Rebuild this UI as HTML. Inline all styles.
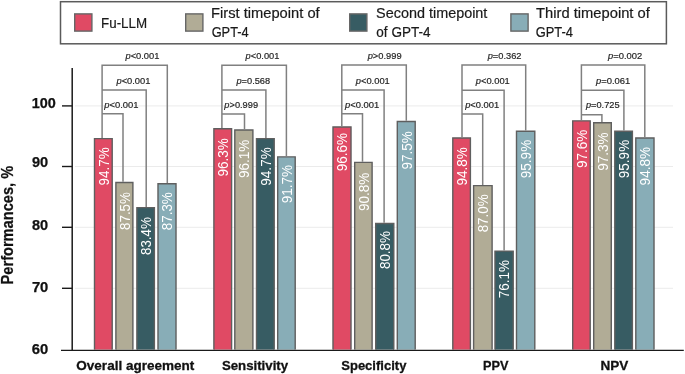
<!DOCTYPE html><html><head><meta charset="utf-8"><style>
html,body{margin:0;padding:0;background:#fff;width:685px;height:374px;overflow:hidden}
svg{display:block;font-family:"Liberation Sans",sans-serif;will-change:transform}
</style></head><body>
<svg width="685" height="374" viewBox="0 0 685 374">
<line x1="75" y1="105.9" x2="673" y2="105.9" stroke="#ebebeb" stroke-width="1"/>
<line x1="75" y1="166.5" x2="673" y2="166.5" stroke="#ebebeb" stroke-width="1"/>
<line x1="75" y1="227.3" x2="673" y2="227.3" stroke="#ebebeb" stroke-width="1"/>
<line x1="75" y1="288.3" x2="673" y2="288.3" stroke="#ebebeb" stroke-width="1"/>
<rect x="94.40" y="138.49" width="17.90" height="211.11" fill="#E04A64"/>
<path d="M94.50,349.60 V138.59 H112.20 V349.60" fill="none" stroke="#5f5f5f" stroke-width="1.4"/>
<rect x="115.80" y="182.47" width="17.20" height="167.13" fill="#B1AC96"/>
<path d="M115.90,349.60 V182.57 H132.90 V349.60" fill="none" stroke="#5f5f5f" stroke-width="1.4"/>
<rect x="136.80" y="207.51" width="17.70" height="142.09" fill="#375C63"/>
<path d="M136.90,349.60 V207.61 H154.40 V349.60" fill="none" stroke="#5f5f5f" stroke-width="1.4"/>
<rect x="157.90" y="183.69" width="18.20" height="165.91" fill="#88ADB7"/>
<path d="M158.00,349.60 V183.79 H176.00 V349.60" fill="none" stroke="#5f5f5f" stroke-width="1.4"/>
<rect x="213.80" y="128.72" width="17.90" height="220.88" fill="#E04A64"/>
<path d="M213.90,349.60 V128.82 H231.60 V349.60" fill="none" stroke="#5f5f5f" stroke-width="1.4"/>
<rect x="234.70" y="129.94" width="18.30" height="219.66" fill="#B1AC96"/>
<path d="M234.80,349.60 V130.04 H252.90 V349.60" fill="none" stroke="#5f5f5f" stroke-width="1.4"/>
<rect x="256.40" y="138.49" width="17.90" height="211.11" fill="#375C63"/>
<path d="M256.50,349.60 V138.59 H274.20 V349.60" fill="none" stroke="#5f5f5f" stroke-width="1.4"/>
<rect x="277.60" y="156.82" width="17.70" height="192.78" fill="#88ADB7"/>
<path d="M277.70,349.60 V156.92 H295.20 V349.60" fill="none" stroke="#5f5f5f" stroke-width="1.4"/>
<rect x="332.90" y="126.89" width="18.20" height="222.71" fill="#E04A64"/>
<path d="M333.00,349.60 V126.99 H351.00 V349.60" fill="none" stroke="#5f5f5f" stroke-width="1.4"/>
<rect x="354.60" y="162.31" width="17.60" height="187.29" fill="#B1AC96"/>
<path d="M354.70,349.60 V162.41 H372.10 V349.60" fill="none" stroke="#5f5f5f" stroke-width="1.4"/>
<rect x="375.60" y="223.39" width="18.30" height="126.21" fill="#375C63"/>
<path d="M375.70,349.60 V223.49 H393.80 V349.60" fill="none" stroke="#5f5f5f" stroke-width="1.4"/>
<rect x="397.20" y="121.39" width="18.10" height="228.21" fill="#88ADB7"/>
<path d="M397.30,349.60 V121.49 H415.20 V349.60" fill="none" stroke="#5f5f5f" stroke-width="1.4"/>
<rect x="452.70" y="137.88" width="17.80" height="211.72" fill="#E04A64"/>
<path d="M452.80,349.60 V137.98 H470.40 V349.60" fill="none" stroke="#5f5f5f" stroke-width="1.4"/>
<rect x="473.50" y="185.52" width="18.70" height="164.08" fill="#B1AC96"/>
<path d="M473.60,349.60 V185.62 H492.10 V349.60" fill="none" stroke="#5f5f5f" stroke-width="1.4"/>
<rect x="494.90" y="251.00" width="18.40" height="98.60" fill="#375C63"/>
<path d="M495.00,349.60 V251.10 H513.20 V349.60" fill="none" stroke="#5f5f5f" stroke-width="1.4"/>
<rect x="516.40" y="131.16" width="18.50" height="218.44" fill="#88ADB7"/>
<path d="M516.50,349.60 V131.26 H534.80 V349.60" fill="none" stroke="#5f5f5f" stroke-width="1.4"/>
<rect x="572.60" y="120.78" width="17.70" height="228.82" fill="#E04A64"/>
<path d="M572.70,349.60 V120.88 H590.20 V349.60" fill="none" stroke="#5f5f5f" stroke-width="1.4"/>
<rect x="593.60" y="122.61" width="17.80" height="226.99" fill="#B1AC96"/>
<path d="M593.70,349.60 V122.71 H611.30 V349.60" fill="none" stroke="#5f5f5f" stroke-width="1.4"/>
<rect x="614.70" y="131.16" width="17.80" height="218.44" fill="#375C63"/>
<path d="M614.80,349.60 V131.26 H632.40 V349.60" fill="none" stroke="#5f5f5f" stroke-width="1.4"/>
<rect x="635.70" y="137.88" width="18.40" height="211.72" fill="#88ADB7"/>
<path d="M635.80,349.60 V137.98 H654.00 V349.60" fill="none" stroke="#5f5f5f" stroke-width="1.4"/>
<path d="M102.1,137.89 V65.2 H167.3 V183.09 M102.1,89.9 H146.2 V206.91 M102.1,113.8 H123.0 V181.87" fill="none" stroke="#808080" stroke-width="1.5"/>
<path d="M221.9,128.12 V65.3 H286.4 V156.22 M221.9,89.9 H265.9 V137.89 M221.9,114.0 H244.5 V129.34" fill="none" stroke="#808080" stroke-width="1.5"/>
<path d="M341.8,126.29 V65.1 H406.3 V120.79 M341.8,90.0 H384.1 V222.79 M341.8,113.8 H362.5 V161.71" fill="none" stroke="#808080" stroke-width="1.5"/>
<path d="M462.0,137.28 V65.0 H525.7 V130.56 M462.0,90.3 H504.1 V250.40 M462.0,113.9 H482.7 V184.92" fill="none" stroke="#808080" stroke-width="1.5"/>
<path d="M581.4,120.18 V65.0 H644.8 V137.28 M581.4,90.2 H623.9 V130.56 M581.4,114.8 H601.9 V122.01" fill="none" stroke="#808080" stroke-width="1.5"/>
<line x1="72.2" y1="68" x2="72.2" y2="350.4" stroke="#1a1a1a" stroke-width="1.5"/>
<line x1="61" y1="350.4" x2="683.8" y2="350.4" stroke="#1a1a1a" stroke-width="1.4"/>
<line x1="62" y1="105.9" x2="72.2" y2="105.9" stroke="#1a1a1a" stroke-width="1.4"/>
<line x1="62" y1="166.5" x2="72.2" y2="166.5" stroke="#1a1a1a" stroke-width="1.4"/>
<line x1="62" y1="227.3" x2="72.2" y2="227.3" stroke="#1a1a1a" stroke-width="1.4"/>
<line x1="62" y1="288.3" x2="72.2" y2="288.3" stroke="#1a1a1a" stroke-width="1.4"/>
<rect x="60.5" y="1.7" width="605.9" height="42.1" fill="none" stroke="#5a5a5a" stroke-width="1.5"/>
<rect x="74.7" y="13.9" width="17.2" height="17.2" fill="#E04A64" stroke="#666" stroke-width="1.4"/>
<rect x="185.7" y="13.9" width="17.2" height="17.2" fill="#B1AC96" stroke="#666" stroke-width="1.4"/>
<rect x="349.7" y="13.9" width="17.2" height="17.2" fill="#375C63" stroke="#666" stroke-width="1.4"/>
<rect x="510.9" y="13.9" width="17.2" height="17.2" fill="#88ADB7" stroke="#666" stroke-width="1.4"/>
<text id="lg1" x="101.07" y="27.70" font-size="14" stroke="#1a1a1a" stroke-width="0.2" fill="#1a1a1a" textLength="46.04" lengthAdjust="spacingAndGlyphs">Fu-LLM</text>
<text id="lg2a" x="211.04" y="18.30" font-size="14" stroke="#1a1a1a" stroke-width="0.2" fill="#1a1a1a" textLength="108.62" lengthAdjust="spacingAndGlyphs">First timepoint of</text>
<text id="lg2b" x="211.64" y="36.80" font-size="14" stroke="#1a1a1a" stroke-width="0.2" fill="#1a1a1a" textLength="37.11" lengthAdjust="spacingAndGlyphs">GPT-4</text>
<text id="lg3a" x="376.12" y="18.30" font-size="14" stroke="#1a1a1a" stroke-width="0.2" fill="#1a1a1a" textLength="111.27" lengthAdjust="spacingAndGlyphs">Second timepoint</text>
<text id="lg3b" x="376.34" y="36.70" font-size="14" stroke="#1a1a1a" stroke-width="0.2" fill="#1a1a1a" textLength="54.17" lengthAdjust="spacingAndGlyphs">of GPT-4</text>
<text id="lg4a" x="536.09" y="18.30" font-size="14" stroke="#1a1a1a" stroke-width="0.2" fill="#1a1a1a" textLength="113.74" lengthAdjust="spacingAndGlyphs">Third timepoint of</text>
<text id="lg4b" x="535.70" y="36.80" font-size="14" stroke="#1a1a1a" stroke-width="0.2" fill="#1a1a1a" textLength="37.26" lengthAdjust="spacingAndGlyphs">GPT-4</text>
<text id="p00" x="104.19" y="108.00" font-size="9.4" stroke="#262626" stroke-width="0.2" fill="#262626" textLength="34.27" lengthAdjust="spacingAndGlyphs"><tspan font-style="italic">p</tspan>&lt;0.001</text>
<text id="p01" x="116.45" y="83.70" font-size="9.4" stroke="#262626" stroke-width="0.2" fill="#262626" textLength="33.98" lengthAdjust="spacingAndGlyphs"><tspan font-style="italic">p</tspan>&lt;0.001</text>
<text id="p02" x="125.44" y="59.30" font-size="9.4" stroke="#262626" stroke-width="0.2" fill="#262626" textLength="33.99" lengthAdjust="spacingAndGlyphs"><tspan font-style="italic">p</tspan>&lt;0.001</text>
<text id="p10" x="224.35" y="108.00" font-size="9.4" stroke="#262626" stroke-width="0.2" fill="#262626" textLength="33.72" lengthAdjust="spacingAndGlyphs"><tspan font-style="italic">p</tspan>&gt;0.999</text>
<text id="p11" x="236.46" y="83.70" font-size="9.4" stroke="#262626" stroke-width="0.2" fill="#262626" textLength="33.67" lengthAdjust="spacingAndGlyphs"><tspan font-style="italic">p</tspan>=0.568</text>
<text id="p12" x="245.61" y="59.30" font-size="9.4" stroke="#262626" stroke-width="0.2" fill="#262626" textLength="33.81" lengthAdjust="spacingAndGlyphs"><tspan font-style="italic">p</tspan>&lt;0.001</text>
<text id="p20" x="345.01" y="108.00" font-size="9.4" stroke="#262626" stroke-width="0.2" fill="#262626" textLength="34.29" lengthAdjust="spacingAndGlyphs"><tspan font-style="italic">p</tspan>&lt;0.001</text>
<text id="p21" x="355.74" y="83.70" font-size="9.4" stroke="#262626" stroke-width="0.2" fill="#262626" textLength="34.05" lengthAdjust="spacingAndGlyphs"><tspan font-style="italic">p</tspan>&lt;0.001</text>
<text id="p22" x="367.63" y="59.30" font-size="9.4" stroke="#262626" stroke-width="0.2" fill="#262626" textLength="33.98" lengthAdjust="spacingAndGlyphs"><tspan font-style="italic">p</tspan>&gt;0.999</text>
<text id="p30" x="465.16" y="108.00" font-size="9.4" stroke="#262626" stroke-width="0.2" fill="#262626" textLength="34.07" lengthAdjust="spacingAndGlyphs"><tspan font-style="italic">p</tspan>&lt;0.001</text>
<text id="p31" x="475.74" y="83.70" font-size="9.4" stroke="#262626" stroke-width="0.2" fill="#262626" textLength="34.05" lengthAdjust="spacingAndGlyphs"><tspan font-style="italic">p</tspan>&lt;0.001</text>
<text id="p32" x="487.65" y="59.30" font-size="9.4" stroke="#262626" stroke-width="0.2" fill="#262626" textLength="33.80" lengthAdjust="spacingAndGlyphs"><tspan font-style="italic">p</tspan>=0.362</text>
<text id="p40" x="585.97" y="108.00" font-size="9.4" stroke="#262626" stroke-width="0.2" fill="#262626" textLength="33.57" lengthAdjust="spacingAndGlyphs"><tspan font-style="italic">p</tspan>=0.725</text>
<text id="p41" x="596.01" y="83.70" font-size="9.4" stroke="#262626" stroke-width="0.2" fill="#262626" textLength="34.29" lengthAdjust="spacingAndGlyphs"><tspan font-style="italic">p</tspan>=0.061</text>
<text id="p42" x="608.06" y="59.30" font-size="9.4" stroke="#262626" stroke-width="0.2" fill="#262626" textLength="34.22" lengthAdjust="spacingAndGlyphs"><tspan font-style="italic">p</tspan>=0.002</text>
<text id="y100" x="31.65" y="107.70" font-size="14" font-weight="bold" stroke="#111" stroke-width="0.25" fill="#111" textLength="24.06" lengthAdjust="spacingAndGlyphs">100</text>
<text id="y90" x="31.99" y="167.40" font-size="14" font-weight="bold" stroke="#111" stroke-width="0.25" fill="#111" textLength="16.24" lengthAdjust="spacingAndGlyphs">90</text>
<text id="y80" x="32.02" y="229.80" font-size="14" font-weight="bold" stroke="#111" stroke-width="0.25" fill="#111" textLength="16.15" lengthAdjust="spacingAndGlyphs">80</text>
<text id="y70" x="31.93" y="291.90" font-size="14" font-weight="bold" stroke="#111" stroke-width="0.25" fill="#111" textLength="16.41" lengthAdjust="spacingAndGlyphs">70</text>
<text id="y60" x="31.87" y="353.90" font-size="14" font-weight="bold" stroke="#111" stroke-width="0.25" fill="#111" textLength="16.44" lengthAdjust="spacingAndGlyphs">60</text>
<text id="c0" x="76.30" y="370.30" font-size="13.5" font-weight="bold" stroke="#111" stroke-width="0.3" fill="#111" textLength="118.04" lengthAdjust="spacingAndGlyphs">Overall agreement</text>
<text id="c1" x="221.90" y="370.30" font-size="13.5" font-weight="bold" stroke="#111" stroke-width="0.3" fill="#111" textLength="66.22" lengthAdjust="spacingAndGlyphs">Sensitivity</text>
<text id="c2" x="341.25" y="370.30" font-size="13.5" font-weight="bold" stroke="#111" stroke-width="0.3" fill="#111" textLength="65.12" lengthAdjust="spacingAndGlyphs">Specificity</text>
<text id="c3" x="483.09" y="370.30" font-size="13.5" font-weight="bold" stroke="#111" stroke-width="0.3" fill="#111" textLength="25.43" lengthAdjust="spacingAndGlyphs">PPV</text>
<text id="c4" x="600.39" y="370.30" font-size="13.5" font-weight="bold" stroke="#111" stroke-width="0.3" fill="#111" textLength="27.78" lengthAdjust="spacingAndGlyphs">NPV</text>
<text id="yt" transform="translate(12.70,284.42) rotate(-90)" font-size="15.6" font-weight="bold" stroke="#111" stroke-width="0.25" fill="#111" textLength="118.56" lengthAdjust="spacingAndGlyphs">Performances, %</text>
<text id="v00" transform="translate(108.60,185.51) rotate(-90)" font-size="14.2" fill="#fff" textLength="38.28" lengthAdjust="spacingAndGlyphs">94.7%</text>
<text id="v01" transform="translate(129.65,229.92) rotate(-90)" font-size="14.2" fill="#fff" textLength="37.76" lengthAdjust="spacingAndGlyphs">87.5%</text>
<text id="v02" transform="translate(150.90,255.00) rotate(-90)" font-size="14.2" fill="#fff" textLength="37.79" lengthAdjust="spacingAndGlyphs">83.4%</text>
<text id="v03" transform="translate(172.25,230.20) rotate(-90)" font-size="14.2" fill="#fff" textLength="37.96" lengthAdjust="spacingAndGlyphs">87.3%</text>
<text id="v10" transform="translate(228.00,176.55) rotate(-90)" font-size="14.2" fill="#fff" textLength="38.36" lengthAdjust="spacingAndGlyphs">96.3%</text>
<text id="v11" transform="translate(249.10,178.11) rotate(-90)" font-size="14.2" fill="#fff" textLength="38.47" lengthAdjust="spacingAndGlyphs">96.1%</text>
<text id="v12" transform="translate(270.60,185.76) rotate(-90)" font-size="14.2" fill="#fff" textLength="38.56" lengthAdjust="spacingAndGlyphs">94.7%</text>
<text id="v13" transform="translate(291.70,203.31) rotate(-90)" font-size="14.2" fill="#fff" textLength="38.51" lengthAdjust="spacingAndGlyphs">91.7%</text>
<text id="v20" transform="translate(347.25,171.34) rotate(-90)" font-size="14.2" fill="#fff" textLength="38.39" lengthAdjust="spacingAndGlyphs">96.6%</text>
<text id="v21" transform="translate(368.65,210.92) rotate(-90)" font-size="14.2" fill="#fff" textLength="38.22" lengthAdjust="spacingAndGlyphs">90.8%</text>
<text id="v22" transform="translate(390.00,269.04) rotate(-90)" font-size="14.2" fill="#fff" textLength="37.97" lengthAdjust="spacingAndGlyphs">80.8%</text>
<text id="v23" transform="translate(411.50,169.55) rotate(-90)" font-size="14.2" fill="#fff" textLength="38.26" lengthAdjust="spacingAndGlyphs">97.5%</text>
<text id="v30" transform="translate(466.85,185.52) rotate(-90)" font-size="14.2" fill="#fff" textLength="38.37" lengthAdjust="spacingAndGlyphs">94.8%</text>
<text id="v31" transform="translate(488.10,232.37) rotate(-90)" font-size="14.2" fill="#fff" textLength="37.91" lengthAdjust="spacingAndGlyphs">87.0%</text>
<text id="v32" transform="translate(509.35,298.36) rotate(-90)" font-size="14.2" fill="#fff" textLength="38.28" lengthAdjust="spacingAndGlyphs">76.1%</text>
<text id="v33" transform="translate(530.90,178.15) rotate(-90)" font-size="14.2" fill="#fff" textLength="38.29" lengthAdjust="spacingAndGlyphs">95.9%</text>
<text id="v40" transform="translate(586.70,168.06) rotate(-90)" font-size="14.2" fill="#fff" textLength="38.38" lengthAdjust="spacingAndGlyphs">97.6%</text>
<text id="v41" transform="translate(607.75,170.87) rotate(-90)" font-size="14.2" fill="#fff" textLength="38.49" lengthAdjust="spacingAndGlyphs">97.3%</text>
<text id="v42" transform="translate(628.85,178.15) rotate(-90)" font-size="14.2" fill="#fff" textLength="38.29" lengthAdjust="spacingAndGlyphs">95.9%</text>
<text id="v43" transform="translate(650.15,185.40) rotate(-90)" font-size="14.2" fill="#fff" textLength="38.57" lengthAdjust="spacingAndGlyphs">94.8%</text>
</svg></body></html>
